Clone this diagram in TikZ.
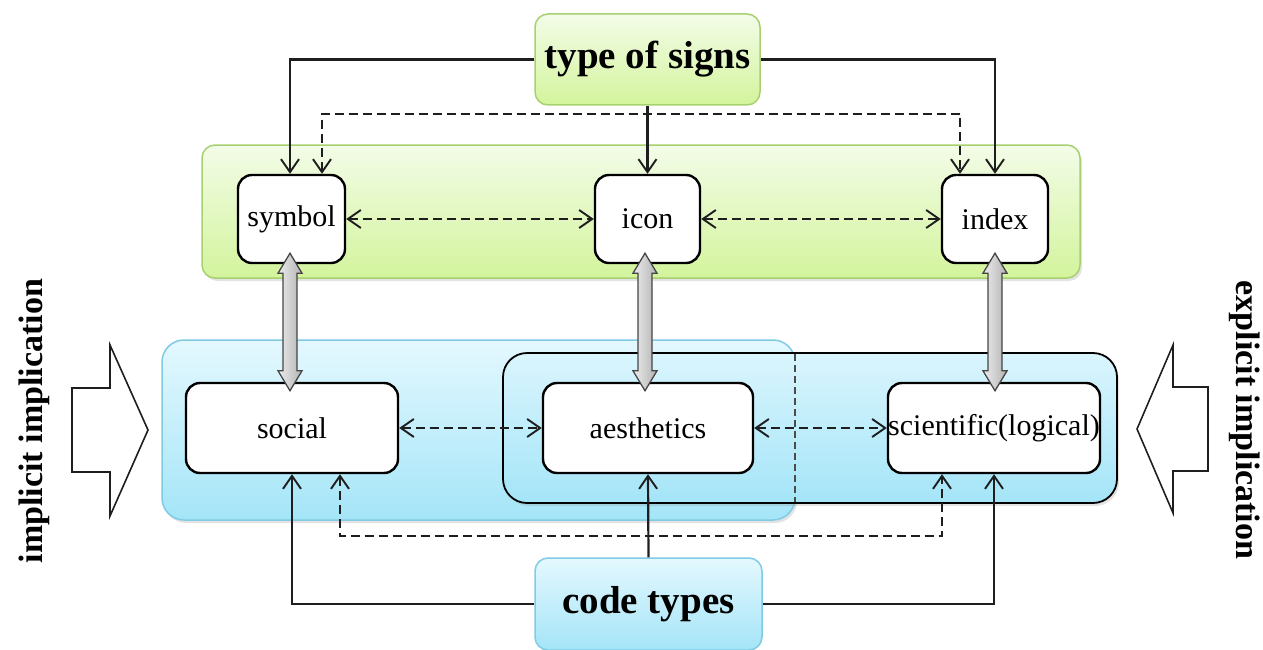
\documentclass[tikz,border=0pt]{standalone}
\usepackage{fontspec}
\setmainfont{Liberation Serif}
\usetikzlibrary{arrows.meta,calc,shadows}
\definecolor{gtop}{HTML}{F3FCE8}
\definecolor{gbot}{HTML}{D3F49C}
\definecolor{gline}{HTML}{A8D070}
\definecolor{btop}{HTML}{E4F8FE}
\definecolor{bbot}{HTML}{A4E5F8}
\definecolor{bline}{HTML}{7FCBE3}
\definecolor{ink}{HTML}{1E1E1E}
\tikzset{
  greenbox/.style={rounded corners=13pt, draw=gline, line width=1.5pt, top color=gtop, bottom color=gbot},
  bluebox/.style={rounded corners=13pt, draw=bline, line width=1.5pt, top color=btop, bottom color=bbot},
  whitebox/.style={rounded corners=14pt, draw=black, line width=2.4pt, fill=white, inner sep=0pt,
     font=\fontsize{30}{35}\selectfont},
  boldlabel/.style={font=\fontsize{39}{44}\selectfont\bfseries, inner sep=0pt},
  conn/.style={draw=ink, line width=2.2pt, -{Straight Barb[length=13pt,width=18pt,line width=1.9pt]}},
  dconn/.style={draw=ink, line width=2.1pt, dash pattern=on 9pt off 5pt,
     {Straight Barb[length=13pt,width=18pt,line width=1.9pt]}-{Straight Barb[length=13pt,width=18pt,line width=1.9pt]}},
  shadowed/.style={drop shadow={opacity=0.22, shadow xshift=2pt, shadow yshift=-3pt}},
  hollow/.style={draw=ink, line width=1.6pt, fill=white, line join=miter},
  thick arrow/.style={draw=gray!55!black, line width=1.3pt, left color=gray!15, right color=gray!60},
}
\newcommand{\biarrow}[2]{%
  \path[thick arrow] let \p1=(#1), \p2=(#2) in
    (\x1,\y1) -- (\x1+12pt,\y1-20pt) -- (\x1+7pt,\y1-20pt) -- (\x2+7pt,\y2+20pt) -- (\x2+12pt,\y2+20pt)
    -- (\x2,\y2) -- (\x2-12pt,\y2+20pt) -- (\x2-7pt,\y2+20pt) -- (\x1-7pt,\y1-20pt) -- (\x1-12pt,\y1-20pt) -- cycle;}
\begin{document}
\begin{tikzpicture}[x=1pt,y=-1pt]
\useasboundingbox (0,0) rectangle (1263,650);
% bands
\node[greenbox, shadowed, minimum width=878pt, minimum height=133pt] (gband) at (641,211.5) {};
\node[bluebox, shadowed, rounded corners=22pt, minimum width=633pt, minimum height=180pt] (bandA) at (478.5,430) {};
\node[rounded corners=24pt, draw=black, line width=1.8pt, top color=btop!85!bbot, bottom color=bbot, shadowed,
      minimum width=614pt, minimum height=150pt] (bandB) at (810,428) {};
\draw[draw=ink!80, line width=1.5pt, dash pattern=on 7pt off 4pt] (795,354) coordinate (dA) -- (795,502) coordinate (dB);
% top / bottom titles
\node[greenbox, boldlabel, minimum width=225pt, minimum height=91pt] (tos) at (647.5,59.5) {type of signs};
\node[bluebox, boldlabel, minimum width=227pt, minimum height=92pt] (code) at (648.5,604) {code types};
% sign boxes
\node[whitebox, minimum width=107pt, minimum height=88pt] (symbol) at (291.5,219) {symbol};
\node[whitebox, minimum width=105pt, minimum height=88pt] (icon) at (647.5,219) {icon};
\node[whitebox, minimum width=106pt, minimum height=88pt] (index) at (995,219) {index};
% code boxes
\node[whitebox, minimum width=212pt, minimum height=90pt] (social) at (292,428) {social};
\node[whitebox, minimum width=210pt, minimum height=90pt] (aesthetics) at (648,428) {aesthetics};
\node[whitebox, minimum width=212pt, minimum height=90pt] (scientific) at (994,428) {scientific(logical)};
% thick double arrows
\biarrow{$(symbol.south)+(-1.5,-11)$}{$(social.north)+(-2,9)$}
\biarrow{$(icon.south)+(-2.5,-11)$}{$(aesthetics.north)+(-3,9)$}
\biarrow{$(index.south)+(0,-11)$}{$(scientific.north)+(1,9)$}
% solid connectors from type of signs
\draw[conn] (tos.west) -| ([xshift=-1.5pt]symbol.north);
\draw[conn] (tos.south) -- (icon.north);
\draw[conn] (tos.east) -| (index.north);
% dashed top loop
\draw[dconn] ([xshift=30.5pt]symbol.north) -- ++(0,-60) -| ([xshift=-35pt]index.north);
% horizontal dashed
\draw[dconn] (symbol.east) -- (icon.west);
\draw[dconn] (icon.east) -- (index.west);
\draw[dconn] (social.east) -- (aesthetics.west);
\draw[dconn] (aesthetics.east) -- (scientific.west);
% code types connectors
\draw[conn] (code.west) -| (social.south);
\draw[conn] (code.north) -- (aesthetics.south);
\draw[conn] (code.east) -| (scientific.south);
% dashed bottom loop
\draw[dconn] ([xshift=48pt]social.south) -- ++(0,62) -| ([xshift=-52pt]scientific.south);
% hollow arrows
\path[hollow] (72,388) -- (110,388) -- (110,345) -- (148,430) -- (110,516) -- (110,472) -- (72,472) -- cycle;
\path[hollow] (1208,387) -- (1173,387) -- (1173,345) -- (1137,429) -- (1173,513) -- (1173,471) -- (1208,471) -- cycle;
% side labels
\node[boldlabel, font=\fontsize{34}{38}\selectfont\bfseries, rotate=90] (impl) at (34,421) {implicit implication};
\node[boldlabel, font=\fontsize{34}{38}\selectfont\bfseries, rotate=-90] (expl) at (1245,420) {explicit implication};
\end{tikzpicture}
\end{document}
